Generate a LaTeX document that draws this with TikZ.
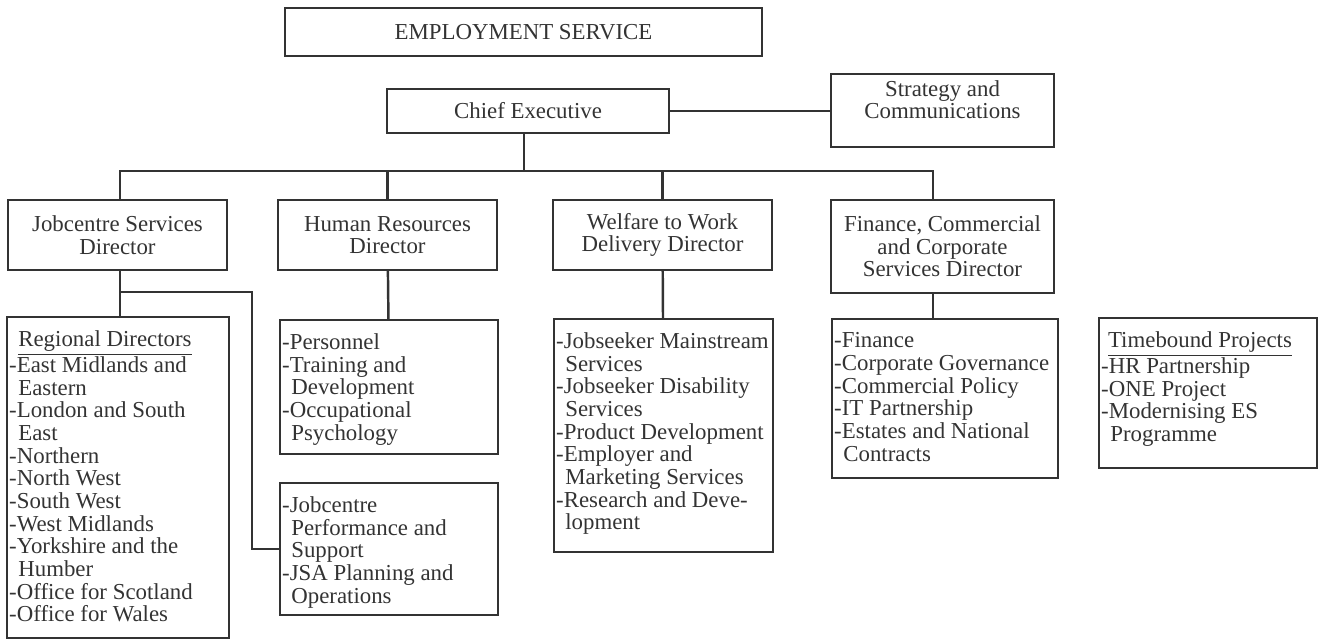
\documentclass[tikz,border=0pt]{standalone}
\usepackage{fontspec}
\setmainfont{Liberation Serif}
\usepackage{xcolor}
\usepackage{tikz}
\definecolor{ink}{HTML}{333333}
\newcommand{\wrapline}{\\\hspace*{.4em}}
\newcommand{\unitlist}[3]{\parbox[t][#1][t]{#2}{#3}}

\begin{document}
\begin{tikzpicture}[color=ink, line width=1.4pt, font=\fontsize{13}{12.9}\selectfont]
\useasboundingbox (0,0) rectangle (26.4,-12.8);
\begin{scope}[every node/.style={draw,align=center,inner sep=0pt,minimum width=4.38cm,minimum height=1.40cm}]
    \node[minimum width=9.54cm,minimum height=0.96cm] (es) at (10.47,-0.64) {EMPLOYMENT SERVICE};
    \node[minimum width=5.64cm,minimum height=0.88cm] (chief) at (10.56,-2.22) {Chief Executive};
    \node[minimum width=4.46cm,minimum height=1.46cm,text depth=0.44cm] (strategy) at (18.85,-2.21) {Strategy and\\Communications};
    \node (jsd) at (2.35,-4.70) {Jobcentre Services\\Director};
    \node (hrd) at (7.75,-4.70) {Human Resources\\Director};
    \node (wtw) at (13.25,-4.70) {Welfare to Work\\Delivery Director};
    \node[minimum width=4.46cm,minimum height=1.86cm] (fcs) at (18.85,-4.93) {Finance, Commercial\\and Corporate\\Services Director};
\end{scope}
\begin{scope}[every node/.style={draw,anchor=north west,inner xsep=0.04cm,inner ysep=0.27cm}]
    \node (regional) at (0.12,-6.32) {\unitlist{5.88cm}{4.36cm}{\hspace*{.4em}\underline{Regional Directors}\\
        -East Midlands and\wrapline Eastern\\-London and South\wrapline East\\-Northern\\-North West\\
        -South West\\-West Midlands\\-Yorkshire and the\wrapline Humber\\-Office for Scotland\\-Office for Wales}};
    \node (personnel) at (5.58,-6.38) {\unitlist{2.14cm}{4.28cm}{-Personnel\\-Training and\wrapline Development\\
        -Occupational\wrapline Psychology}};
    \node (jsa) at (5.58,-9.64) {\unitlist{2.10cm}{4.28cm}{-Jobcentre\wrapline Performance and\wrapline Support\\
        -JSA Planning and\wrapline Operations}};
    \node (wtwlist) at (11.06,-6.36) {\unitlist{4.12cm}{4.30cm}{-Jobseeker Mainstream\wrapline Services\\
        -Jobseeker Disability\wrapline Services\\-Product Development\\-Employer and\wrapline Marketing Services\\
        -Research and Deve-\wrapline lopment}};
    \node (fcslist) at (16.62,-6.36) {\unitlist{2.64cm}{4.44cm}{-Finance\\-Corporate Governance\\-Commercial Policy\\
        -IT Partnership\\-Estates and National\wrapline Contracts}};
    \node (timebound) at (21.96,-6.34) {\unitlist{2.46cm}{4.28cm}{\hspace*{.3em}\underline{Timebound Projects}\\
        -HR Partnership\\-ONE Project\\-Modernising ES\wrapline Programme}};
\end{scope}
\begin{scope}
    \coordinate (bus) at (10.48,-3.42);
    \coordinate (fin) at (18.66,-3.42);
    \coordinate (split) at (2.40,-5.84);
    \coordinate (jog) at (5.04,-5.84);
    \draw (chief.east) -- (chief.east -| strategy.west);
    \draw (bus |- chief.south) -- (bus);
    \draw (split |- jsd.north) |- (fin) -- (fin |- fcs.north);
    \draw (hrd.north) -- (hrd.north |- bus);
    \draw (wtw.north) -- (wtw.north |- bus);
    \draw (split |- jsd.south) -- (split |- regional.north);
    \draw (split) -- (jog) |- (jsa.west);
    \draw (hrd) -- (personnel);
    \draw (wtw) -- (wtwlist);
    \draw (fin |- fcs.south) -- (fin |- fcslist.north);
\end{scope}
\end{tikzpicture}
\end{document}
